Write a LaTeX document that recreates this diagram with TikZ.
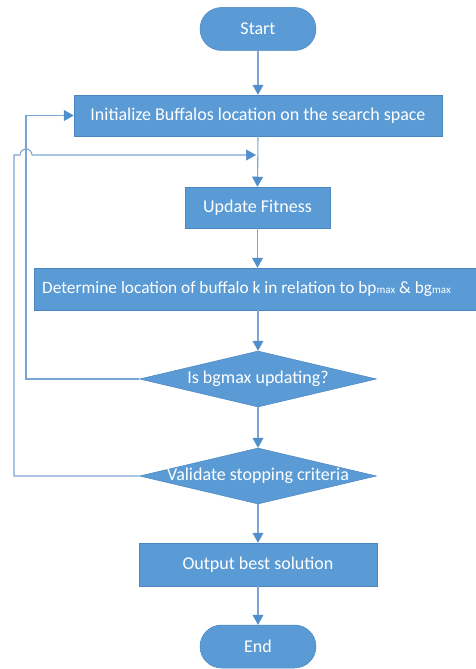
\documentclass[tikz,border=0pt]{standalone}
\usepackage{fontspec}
\setmainfont{Carlito}
\usetikzlibrary{shapes.geometric,shapes.misc,arrows.meta}
\definecolor{boxblue}{HTML}{5B9BD5}
\definecolor{boxedge}{HTML}{4A86C0}
\definecolor{linec}{HTML}{7BA6D4}
\definecolor{tipc}{HTML}{4F8FCC}
\begin{document}
\begin{tikzpicture}[x=1pt,y=1pt,
  every node/.style={font=\fontsize{18}{21}\selectfont, text=white, inner sep=0pt},
  proc/.style={rectangle, fill=boxblue, draw=boxedge, line width=0.5pt},
  term/.style={rounded rectangle, fill=boxblue, draw=boxedge, line width=0.5pt, minimum width=116pt, minimum height=43pt},
  decision/.style={diamond, fill=boxblue, draw=boxedge, line width=0.5pt, minimum width=237pt, minimum height=56pt, inner sep=0pt},
  flow/.style={draw=linec, line width=1.1pt, -{Triangle[width=11pt,length=10pt,fill=tipc,color=tipc,line width=0.5pt]}}
]
\useasboundingbox (0,-669) rectangle (476,0);
\node[term] (start) at (258,-29) {Start};
\node[proc, minimum width=368pt, minimum height=41pt] (init) at (258,-115.5) {Initialize Buffalos location on the search space};
\node[proc, minimum width=145pt, minimum height=41pt] (upd) at (257.5,-207.5) {Update Fitness};
\node[proc, minimum width=446pt, minimum height=42pt, anchor=west] (det) at (34,-289) {};
\node[anchor=west, font=\fontsize{17.3}{20}\selectfont] (dett) at (42,-289) {Determine location of buffalo k in relation to bp{\fontsize{11}{12}\selectfont max} \& bg{\fontsize{11}{12}\selectfont max}};
\node[decision] (d1) at (258,-379) {};
\node (d1t) at (d1.center) {Is bgmax updating?};
\node[decision] (d2) at (258,-476) {};
\node (d2t) at (d2.center) {Validate stopping criteria};
\node[proc, minimum width=238pt, minimum height=43pt] (out) at (258,-564.5) {Output best solution};
\node[term] (end) at (258,-646.5) {End};

\coordinate (j) at (258,-155);
\coordinate (l1) at (26,-379);
\coordinate (l1t) at (26,-115.5);
\coordinate (l2) at (14,-476);
\coordinate (l2t) at (14,-155);

\draw[flow] (start.south) -- (init.north);
\draw[flow] (init.south) -- (upd.north);
\draw[flow] (upd.south) -- (det.north -| upd.south);
\draw[flow] (det.south -| d1.north) -- (d1.north);
\draw[flow] (d1.south) -- (d2.north);
\draw[flow] (d2.south) -- (out.north);
\draw[flow] (out.south) -- (end.north);
\draw[flow] (d1.west) -- (l1) -- (l1t) -- (init.west);
\draw[flow, shorten >=2pt] (d2.west) -- (l2) -- (l2t) -- (20,-155) arc[start angle=180, end angle=0, radius=6] -- (j);
\end{tikzpicture}
\end{document}
